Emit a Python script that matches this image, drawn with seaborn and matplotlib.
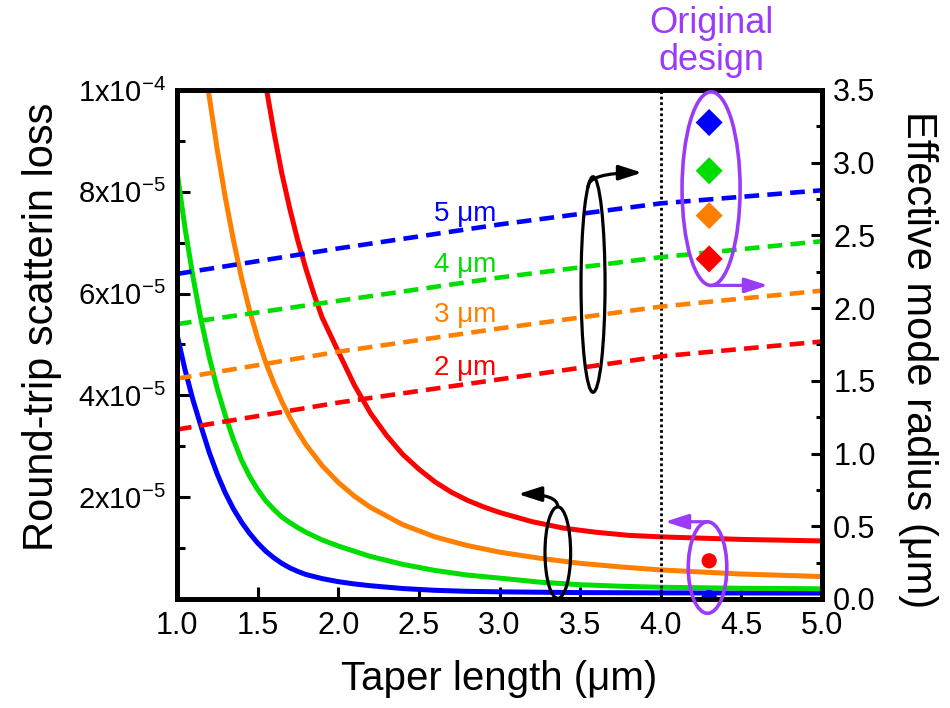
import numpy as np
import pandas as pd
import matplotlib
matplotlib.use("Agg")
import matplotlib.pyplot as plt
import seaborn as sns
from matplotlib.patches import Ellipse, FancyArrowPatch

# ---------------- data ----------------
# scattering loss curves (left axis, units of 1e-5)
blue_x = [1.0, 1.05, 1.1, 1.15, 1.2, 1.25, 1.3, 1.35, 1.4, 1.45, 1.5, 1.55, 1.6, 1.65,
          1.7, 1.75, 1.8, 1.9, 2.0, 2.1, 2.2, 2.4, 2.6, 2.8, 3.0, 3.5, 4.0, 5.0]
blue_loss = [5.20, 4.50, 3.90, 3.38, 2.88, 2.45, 2.08, 1.77, 1.51, 1.29, 1.10, 0.94, 0.81,
             0.70, 0.61, 0.54, 0.48, 0.40, 0.34, 0.295, 0.26, 0.205, 0.17, 0.15, 0.14,
             0.125, 0.12, 0.115]
green_x = [1.0, 1.05, 1.1, 1.15, 1.2, 1.25, 1.3, 1.35, 1.4, 1.45, 1.5, 1.55, 1.6, 1.65,
           1.7, 1.75, 1.8, 1.9, 2.0, 2.2, 2.4, 2.6, 2.8, 3.0, 3.25, 3.5, 3.75, 4.0,
           4.5, 5.0]
green_loss = [8.40, 7.28, 6.31, 5.47, 4.75, 4.13, 3.60, 3.13, 2.73, 2.41, 2.15, 1.93, 1.76,
              1.61, 1.50, 1.40, 1.31, 1.16, 1.04, 0.835, 0.68, 0.56, 0.47, 0.41, 0.33,
              0.28, 0.25, 0.23, 0.21, 0.20]
orange_x = [1.194, 1.25, 1.3, 1.35, 1.4, 1.45, 1.5, 1.55, 1.6, 1.65, 1.7, 1.75, 1.8, 1.9,
            2.0, 2.1, 2.2, 2.4, 2.6, 2.8, 3.0, 3.25, 3.5, 3.75, 4.0, 4.5, 5.0]
orange_loss = [10.0, 8.82, 7.88, 7.05, 6.31, 5.67, 5.12, 4.65, 4.24, 3.88, 3.56, 3.28, 3.03,
               2.62, 2.29, 2.02, 1.80, 1.46, 1.22, 1.05, 0.92, 0.80, 0.70, 0.63, 0.57,
               0.49, 0.44]
red_x = [1.556, 1.6, 1.65, 1.7, 1.75, 1.8, 1.85, 1.9, 2.0, 2.1, 2.2, 2.3, 2.4, 2.5, 2.6,
         2.7, 2.8, 2.9, 3.0, 3.2, 3.4, 3.6, 3.8, 4.0, 4.5, 5.0]
red_loss = [10.0, 9.19, 8.36, 7.66, 7.03, 6.48, 5.98, 5.53, 4.86, 4.20, 3.65, 3.21, 2.84,
            2.55, 2.30, 2.10, 1.94, 1.81, 1.70, 1.52, 1.39, 1.31, 1.25, 1.22, 1.17, 1.14]

# effective mode radius (right axis, um)
radius_x = [1.0, 2.0, 3.0, 4.0, 5.0]
blue_radius = [2.235, 2.41, 2.575, 2.72, 2.81]
green_radius = [1.89, 2.05, 2.21, 2.35, 2.46]
orange_radius = [1.515, 1.70, 1.86, 2.01, 2.12]
red_radius = [1.165, 1.35, 1.51, 1.668, 1.77]

widths = ["5 \u03bcm", "4 \u03bcm", "3 \u03bcm", "2 \u03bcm"]
label_y = [2.601, 2.246, 1.903, 1.537]

# original design points
design_x = 4.30
design_radius = [3.276, 2.944, 2.636, 2.338]   # blue, green, orange, red
design_loss = [0.03, 0.75]                     # blue, red (1e-5)

x_ticks = [1.0, 1.5, 2.0, 2.5, 3.0, 3.5, 4.0, 4.5, 5.0]
x_ticklabels = ["1.0", "1.5", "2.0", "2.5", "3.0", "3.5", "4.0", "4.5", "5.0"]
left_ticks = [2e-5, 4e-5, 6e-5, 8e-5, 1e-4]
left_ticklabels = ["2x10$^{-5}$", "4x10$^{-5}$", "6x10$^{-5}$", "8x10$^{-5}$", "1x10$^{-4}$"]
right_ticks = [0.0, 0.5, 1.0, 1.5, 2.0, 2.5, 3.0, 3.5]
right_ticklabels = ["0.0", "0.5", "1.0", "1.5", "2.0", "2.5", "3.0", "3.5"]

BLUE, GREEN, ORANGE, RED = "#0000FF", "#00DD00", "#FF8000", "#FF0000"
PURPLE = "#9B3BF8"

# ---------------- style ----------------
sns.set_style("white")
plt.rcParams["font.family"] = ["Liberation Sans", "DejaVu Sans"]
plt.rcParams["mathtext.default"] = "regular"
for k in ["text.color", "axes.labelcolor", "xtick.color", "ytick.color",
          "axes.edgecolor"]:
    plt.rcParams[k] = "black"

fig = plt.figure(figsize=(9.5, 7.08), dpi=100)
ax = fig.add_axes([0.1863, 0.154, 0.679, 0.719])
ax2 = ax.twinx()

# solid loss curves (left axis)
for xs, ys, c in [(blue_x, blue_loss, BLUE), (green_x, green_loss, GREEN),
                  (orange_x, orange_loss, ORANGE), (red_x, red_loss, RED)]:
    sns.lineplot(x=xs, y=np.array(ys) * 1e-5, ax=ax, color=c, lw=3.6,
                 estimator=None, sort=False, solid_joinstyle="round",
                 solid_capstyle="butt")

sns.scatterplot(x=[design_x, design_x], y=np.array(design_loss) * 1e-5, ax=ax,
                hue=["b", "r"], palette=[BLUE, RED], s=120, edgecolor="none",
                legend=False, zorder=5)

# dashed radius curves (right axis)
for ys, c in [(blue_radius, BLUE), (green_radius, GREEN),
              (orange_radius, ORANGE), (red_radius, RED)]:
    sns.lineplot(x=radius_x, y=ys, ax=ax2, color=c, lw=3.3,
                 linestyle=(0, (3.2, 1.8)), estimator=None, sort=False)

for txt, yy, c in zip(widths, label_y, [BLUE, GREEN, ORANGE, RED]):
    ax2.text(2.978, yy, txt, color=c, fontsize=20, ha="right", va="baseline")

sns.scatterplot(x=[design_x] * 4, y=design_radius, ax=ax2, marker="D",
                hue=["b", "g", "o", "r"], palette=[BLUE, GREEN, ORANGE, RED],
                s=190, edgecolor="none", legend=False, zorder=6)

ax.axvline(4.0, color="black", lw=2.0, ls=(0, (1, 1)))

# axes limits / ticks
ax.set_xlim(1.0, 5.0)
ax.set_ylim(0, 1e-4)
ax2.set_ylim(0, 3.5)

ax.set_xticks(x_ticks)
ax.set_xticklabels(x_ticklabels)
ax.set_yticks(left_ticks)
ax.set_yticklabels(left_ticklabels)
ax.set_yticks([1e-5, 3e-5, 5e-5, 7e-5, 9e-5], minor=True)
ax2.set_yticks(right_ticks)
ax2.set_yticklabels(right_ticklabels)
ax2.set_yticks(np.arange(0.25, 3.5, 0.5), minor=True)

ax.tick_params(axis="x", which="major", direction="in", length=9, width=2.2,
               labelsize=22, pad=9, top=False, bottom=True)
ax.tick_params(axis="y", which="major", direction="in", length=9, width=2.2,
               labelsize=21, pad=8, left=True, right=False)
ax.tick_params(axis="y", which="minor", direction="in", length=6, width=2.2,
               left=True, right=False)
ax2.tick_params(axis="y", which="major", direction="in", length=8, width=2.2,
                labelsize=22, pad=8, right=True, left=False)
ax2.tick_params(axis="y", which="minor", direction="in", length=4.5, width=2.2,
                right=True, left=False)

for a in (ax, ax2):
    for sp in a.spines.values():
        sp.set_linewidth(3.4)
        sp.set_color("black")
        sp.set_visible(True)

ax.set_xlabel("Taper length (\u03bcm)", fontsize=29)
ax.xaxis.set_label_coords(0.5, -0.12)
ax.set_ylabel("Round-trip scatterin loss", fontsize=30, va="center",
              rotation_mode="default")
ax.yaxis.set_label_coords(-0.2085, 0.535)
ax2.set_ylabel("Effective mode radius (\u03bcm)", fontsize=30, rotation=-90,
               va="center", rotation_mode="default")
ax2.yaxis.set_label_coords(1.148, 0.47)

# annotations (right-axis data coordinates)
def ellipse(cx, cy, w, h, color, lw):
    e = Ellipse((cx, cy), w, h, fill=False, edgecolor=color, lw=lw,
                transform=ax2.transData, clip_on=False, zorder=7)
    ax2.add_patch(e)

def arrow(p0, p1, color, conn):
    a = FancyArrowPatch(p0, p1, transform=ax2.transData,
                        arrowstyle="-|>,head_length=1.4,head_width=0.45",
                        mutation_scale=10, color=color, lw=2.3,
                        connectionstyle=conn,
                        shrinkA=0, shrinkB=0, clip_on=False, zorder=7)
    ax2.add_patch(a)

ellipse(3.580, 2.162, 0.149, 1.482, "black", 2.3)
arrow((3.548, 2.83), (3.884, 2.931), "black", "angle3,angleA=90,angleB=0")
ellipse(3.3615, 0.319, 0.159, 0.629, "black", 2.3)
arrow((3.3615, 0.634), (3.115, 0.721), "black", "angle3,angleA=90,angleB=180")
ellipse(4.312, 2.821, 0.360, 1.331, PURPLE, 2.6)
arrow((4.312, 2.156), (4.665, 2.156), PURPLE, "arc3,rad=0")
ellipse(4.290, 0.216, 0.239, 0.629, PURPLE, 2.6)
arrow((4.29, 0.531), (4.026, 0.531), PURPLE, "arc3,rad=0")

fig.text(711 / 950, 1 - 33 / 708, "Original", color=PURPLE, fontsize=26,
         ha="center", va="baseline")
fig.text(711 / 950, 1 - 70 / 708, "design", color=PURPLE, fontsize=26,
         ha="center", va="baseline")

fig.savefig("out.png", dpi=100)
